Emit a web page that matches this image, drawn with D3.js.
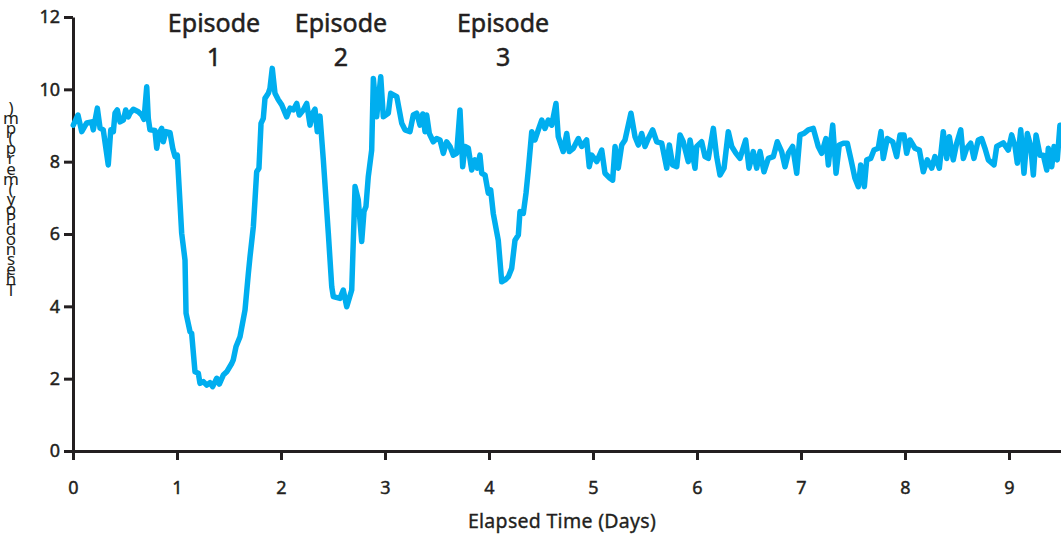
<!DOCTYPE html>
<html>
<head>
<meta charset="utf-8">
<script src="https://cdn.jsdelivr.net/npm/d3@7"></script>
<style>
  html, body { margin: 0; padding: 0; background: #fff; }
  svg { display: block; }
  .axis text { font-family: "Noto Sans", sans-serif; font-size: 18px; fill: #231f20; stroke: #231f20; stroke-width: 0.45; }
  .axis path, .axis line { stroke: #231f20; stroke-width: 3; }
</style>
</head>
<body>
<div id="chart"></div>
<script>
// ── Data ───────────────────────────────────────────────────────────────────────

const days = [
  0.003, 0.048, 0.084, 0.132, 0.180, 0.195, 0.234, 0.260, 0.291, 0.339, 0.363, 0.388, 0.404, 0.426, 0.452,
  0.484, 0.507, 0.532, 0.548, 0.580, 0.628, 0.661, 0.683, 0.709, 0.724, 0.740, 0.788, 0.805, 0.827, 0.853,
  0.868, 0.894, 0.933, 0.959, 0.981, 1.003, 1.029, 1.045, 1.077, 1.087, 1.125, 1.141, 1.173, 1.205, 1.221,
  1.253, 1.286, 1.317, 1.343, 1.382, 1.407, 1.445, 1.478, 1.526, 1.541, 1.567, 1.606, 1.654, 1.686, 1.702,
  1.734, 1.750, 1.766, 1.788, 1.808, 1.830, 1.846, 1.878, 1.894, 1.916, 1.942, 1.974, 2.007, 2.055, 2.087,
  2.118, 2.151, 2.176, 2.214, 2.247, 2.279, 2.305, 2.327, 2.349, 2.375, 2.407, 2.455, 2.488, 2.503, 2.567,
  2.599, 2.632, 2.680, 2.712, 2.743, 2.776, 2.798, 2.817, 2.839, 2.872, 2.888, 2.920, 2.959, 2.984, 3.032,
  3.055, 3.113, 3.161, 3.192, 3.240, 3.272, 3.305, 3.337, 3.363, 3.385, 3.401, 3.426, 3.464, 3.497, 3.529,
  3.561, 3.593, 3.625, 3.657, 3.689, 3.721, 3.747, 3.769, 3.801, 3.834, 3.865, 3.888, 3.913, 3.930, 3.962,
  3.993, 4.016, 4.041, 4.089, 4.122, 4.154, 4.186, 4.218, 4.250, 4.282, 4.298, 4.330, 4.356, 4.378, 4.411,
  4.442, 4.474, 4.507, 4.538, 4.570, 4.603, 4.644, 4.666, 4.714, 4.747, 4.772, 4.811, 4.859, 4.891, 4.939,
  4.964, 4.988, 5.036, 5.084, 5.115, 5.163, 5.189, 5.212, 5.243, 5.276, 5.308, 5.365, 5.404, 5.436, 5.468,
  5.500, 5.532, 5.574, 5.613, 5.661, 5.709, 5.734, 5.766, 5.805, 5.837, 5.868, 5.916, 5.933, 5.981, 5.997,
  6.045, 6.077, 6.109, 6.157, 6.189, 6.221, 6.260, 6.301, 6.334, 6.375, 6.413, 6.468, 6.500, 6.541, 6.574,
  6.606, 6.644, 6.686, 6.734, 6.772, 6.814, 6.846, 6.878, 6.920, 6.959, 6.990, 7.029, 7.070, 7.118, 7.166,
  7.199, 7.240, 7.263, 7.305, 7.337, 7.368, 7.407, 7.445, 7.478, 7.519, 7.551, 7.574, 7.609, 7.632, 7.670,
  7.702, 7.743, 7.769, 7.791, 7.830, 7.882, 7.920, 7.952, 7.990, 8.016, 8.048, 8.096, 8.138, 8.176, 8.214,
  8.257, 8.288, 8.330, 8.368, 8.401, 8.426, 8.464, 8.497, 8.536, 8.561, 8.593, 8.632, 8.663, 8.705, 8.737,
  8.769, 8.801, 8.856, 8.882, 8.945, 8.993, 9.026, 9.058, 9.080, 9.113, 9.144, 9.176, 9.209, 9.234, 9.260,
  9.298, 9.330, 9.363, 9.378, 9.411, 9.433, 9.464, 9.490
];

const readings = [
  9.01, 9.29, 8.83, 9.07, 9.10, 8.88, 9.48, 8.93, 8.88, 7.91, 8.88, 8.83, 9.34, 9.43, 9.10,
  9.15, 9.43, 9.24, 9.34, 9.45, 9.38, 9.29, 9.17, 10.07, 9.20, 8.88, 8.86, 8.37, 8.78, 8.92,
  8.55, 8.83, 8.80, 8.37, 8.14, 8.18, 6.85, 6.02, 5.28, 3.81, 3.30, 3.25, 2.19, 2.15, 1.87,
  1.92, 1.82, 1.89, 1.78, 2.01, 1.85, 2.10, 2.19, 2.42, 2.52, 2.88, 3.16, 3.90, 4.91, 5.37,
  6.20, 6.94, 7.72, 7.82, 9.06, 9.20, 9.75, 9.89, 10.03, 10.58, 9.89, 9.71, 9.57, 9.24, 9.48,
  9.43, 9.61, 9.29, 9.43, 9.61, 9.01, 9.34, 9.45, 8.83, 9.26, 8.05, 6.02, 4.54, 4.27, 4.22,
  4.45, 3.99, 4.45, 7.31, 6.94, 5.79, 6.62, 6.76, 7.58, 8.32, 10.30, 9.24, 10.35, 9.24, 9.34,
  9.89, 9.80, 9.06, 8.88, 8.83, 9.29, 9.34, 9.01, 9.32, 8.83, 9.29, 8.78, 8.55, 8.64, 8.60,
  8.23, 8.55, 8.42, 8.18, 8.23, 9.43, 7.86, 8.42, 8.37, 7.77, 8.05, 7.82, 8.18, 7.68, 7.63,
  7.13, 7.22, 6.57, 5.83, 4.68, 4.73, 4.82, 5.05, 5.83, 5.97, 6.62, 6.57, 7.13, 7.77, 8.83,
  8.60, 8.88, 9.15, 8.92, 9.15, 9.01, 9.61, 8.69, 8.28, 8.78, 8.28, 8.37, 8.64, 8.42, 8.60,
  7.86, 8.18, 8.00, 8.32, 7.68, 7.54, 7.49, 8.42, 7.82, 8.46, 8.60, 9.34, 8.69, 8.46, 8.78,
  8.42, 8.64, 8.88, 8.55, 8.51, 7.82, 8.46, 7.91, 7.86, 8.74, 8.55, 8.00, 8.60, 7.82, 8.42,
  8.55, 8.14, 8.09, 8.92, 8.14, 7.63, 7.82, 8.83, 8.42, 8.23, 8.09, 8.60, 7.82, 8.28, 7.82,
  8.28, 7.72, 8.09, 8.14, 8.55, 8.28, 7.86, 8.23, 8.42, 7.68, 8.74, 8.78, 8.88, 8.92, 8.42,
  8.23, 8.64, 7.91, 9.01, 7.68, 8.46, 8.51, 8.51, 8.09, 7.54, 7.31, 7.91, 7.31, 8.05, 8.09,
  8.32, 8.37, 8.83, 8.09, 8.64, 8.55, 8.14, 8.74, 8.74, 8.23, 8.60, 8.37, 8.32, 7.72, 8.05,
  7.82, 8.14, 7.82, 8.83, 8.09, 8.69, 8.05, 8.51, 8.88, 8.09, 8.37, 8.51, 8.09, 8.60, 8.64,
  8.37, 8.05, 7.91, 8.42, 8.52, 8.32, 8.74, 8.42, 7.96, 8.88, 7.68, 8.78, 8.42, 7.63, 8.74,
  8.18, 8.18, 7.77, 8.37, 7.86, 8.42, 8.05, 9.01
];

const xTicks = [0, 1, 2, 3, 4, 5, 6, 7, 8, 9];
const yTicks = [0, 2, 4, 6, 8, 10, 12];

const episodeNames = ["1", "2", "3"];
const episodeDays  = [1.356, 2.577, 4.135];

const xTitle = "Elapsed Time (Days)";
// the source's vertical label, as it is drawn: upright glyphs squeezed into one column
const yTitle = ")mp(prem(yoPdonsehT";

// ── Layout ─────────────────────────────────────────────────────────────────────

const W = 1061, H = 535;
const margin = { top: 17, right: 0, bottom: 84, left: 73 };
const ink = "#231f20";
const font = "'Noto Sans', sans-serif";

const svg = d3.select("#chart").append("svg")
    .attr("width", W)
    .attr("height", H);

const x = d3.scaleLinear().domain([0, 9.5]).range([margin.left, W - margin.right]);
const y = d3.scaleLinear().domain([0, 12]).range([H - margin.bottom, margin.top]);

// ── Axes ───────────────────────────────────────────────────────────────────────

svg.append("g")
    .attr("class", "axis")
    .attr("transform", `translate(0,${y(0)})`)
    .call(d3.axisBottom(x).tickValues(xTicks).tickSize(9).tickSizeOuter(0).tickPadding(21));

svg.append("g")
    .attr("class", "axis")
    .attr("transform", `translate(${x(0)},0)`)
    .call(d3.axisLeft(y).tickValues(yTicks).tickSize(9).tickSizeOuter(0).tickPadding(4));

// ── Series ─────────────────────────────────────────────────────────────────────

const line = d3.line()
    .x((d, i) => x(days[i]))
    .y(d => y(d));

svg.append("path")
    .datum(readings)
    .attr("d", line)
    .attr("fill", "none")
    .attr("stroke", "#00aeef")
    .attr("stroke-width", 5.5)
    .attr("stroke-linejoin", "round")
    .attr("stroke-linecap", "round");

// ── Labels ─────────────────────────────────────────────────────────────────────

const ep = svg.append("g")
    .attr("font-family", font)
    .attr("font-size", 25)
    .attr("fill", ink)
    .attr("stroke", ink)
    .attr("stroke-width", 0.5)
    .attr("text-anchor", "middle");

episodeDays.forEach((d, i) => {
    ep.append("text").attr("x", x(d)).attr("y", 32).text("Episode");
    ep.append("text").attr("x", x(d)).attr("y", 66).text(episodeNames[i]);
});

svg.append("text")
    .attr("x", 562)
    .attr("y", 528)
    .attr("text-anchor", "middle")
    .attr("font-family", font)
    .attr("font-size", 19.5)
    .attr("letter-spacing", 0.3)
    .attr("fill", ink)
    .attr("stroke", ink)
    .attr("stroke-width", 0.35)
    .text(xTitle);

// one text element, glyphs upright and overlapping like the original
svg.append("text")
    .attr("x", 11)
    .attr("y", 96)
    .attr("font-family", font)
    .attr("font-size", 17)
    .attr("fill", ink)
    .attr("textLength", 198)
    .attr("lengthAdjust", "spacing")
    .style("writing-mode", "vertical-rl")
    .style("text-orientation", "upright")
    .style("letter-spacing", "-6.5px")
    .text(yTitle);
</script>
</body>
</html>
